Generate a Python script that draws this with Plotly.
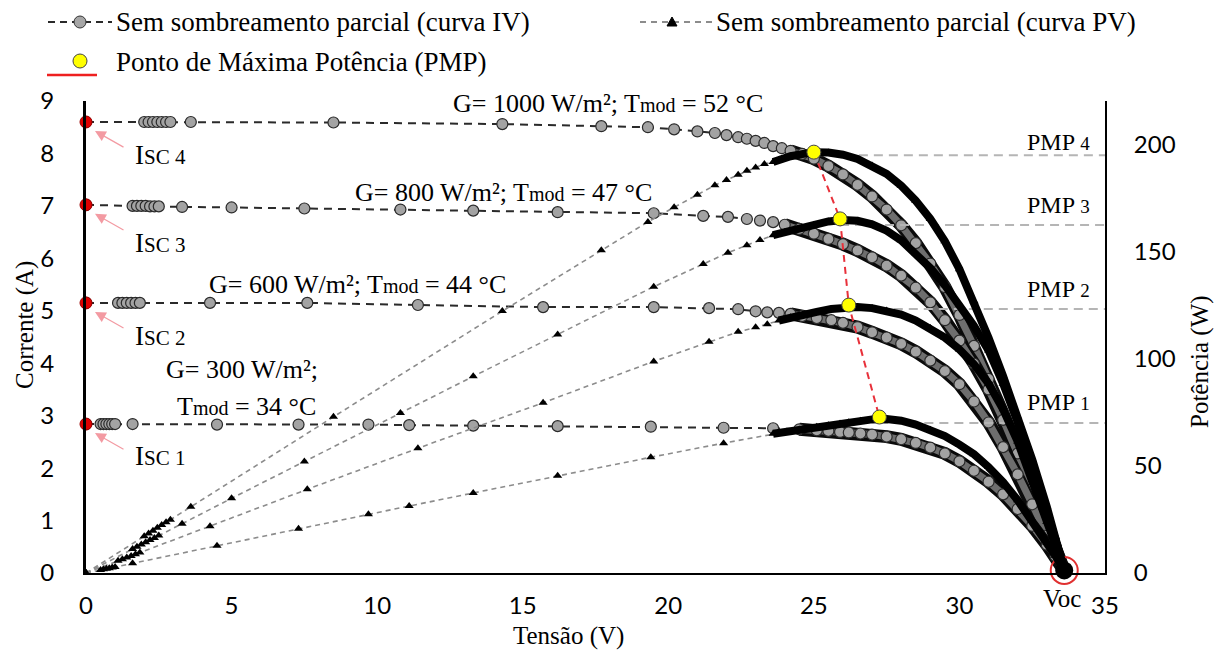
import plotly.graph_objects as go

# ---------------- data ----------------
# Curve 4 : G = 1000 W/m2
iv4_v = [0.0, 2.0, 2.15, 2.3, 2.45, 2.6, 2.75, 2.9, 3.6, 8.5, 14.3, 17.7, 19.3, 20.2, 21.0, 21.6, 22.0, 22.4, 22.7, 23.0,
         23.3, 23.6, 23.9, 24.2, 24.6, 25.0, 25.5, 26.0, 26.5, 27.0, 27.5, 28.0, 28.5, 29.0, 29.5, 30.0, 30.5, 31.0,
         31.5, 32.0, 32.5, 33.0, 33.3, 33.6]
iv4_i = [8.60, 8.60, 8.60, 8.60, 8.60, 8.60, 8.60, 8.60, 8.60, 8.59, 8.56, 8.52, 8.50, 8.46, 8.42, 8.39, 8.35, 8.31, 8.28, 8.24,
         8.20, 8.14, 8.10, 8.05, 7.99, 7.90, 7.76, 7.60, 7.40, 7.18, 6.93, 6.63, 6.29, 5.90, 5.45, 4.92, 4.33, 3.70,
         3.04, 2.36, 1.67, 0.96, 0.52, 0.04]
pv4_p = [0.0, 17.2, 18.5, 19.8, 21.1, 22.4, 23.7, 24.9, 31.0, 73.0, 122.4, 150.8, 164.1, 170.9, 176.8, 181.2, 183.7, 186.1, 188.0, 189.5,
         191.1, 192.1, 193.6, 194.8, 195.8, 196.7, 196.5, 195.5, 193.5, 190.5, 186.5, 181.0, 174.0, 165.5, 155.0, 142.0, 127.0, 110.0,
         92.0, 73.0, 53.0, 31.0, 17.0, 1.3]

# Curve 3 : G = 800 W/m2
iv3_v = [0.0, 1.6, 1.75, 1.9, 2.05, 2.2, 2.35, 2.5, 3.3, 5.0, 7.5, 10.8, 13.3, 16.2, 19.5, 21.2, 22.05, 22.7, 23.15, 23.6,
         24.0, 24.5, 25.0, 25.5, 26.0, 26.5, 27.0, 27.5, 28.0, 28.5, 29.0, 29.5, 30.0, 30.5, 31.0, 31.5, 32.0, 32.5,
         33.0, 33.3, 33.6]
iv3_i = [7.02, 7.00, 7.00, 7.00, 7.00, 6.99, 6.99, 6.99, 6.98, 6.97, 6.95, 6.93, 6.91, 6.88, 6.86, 6.81, 6.79, 6.75, 6.72, 6.69,
         6.64, 6.56, 6.47, 6.37, 6.27, 6.15, 6.02, 5.86, 5.67, 5.44, 5.16, 4.82, 4.43, 3.99, 3.50, 2.92, 2.28, 1.61,
         0.90, 0.48, 0.03]
pv3_p = [0.0, 11.2, 12.25, 13.3, 14.35, 15.4, 16.4, 17.5, 23.0, 34.9, 52.1, 74.8, 91.9, 111.5, 133.8, 144.4, 149.7, 153.2, 155.6, 157.9,
         159.4, 161.0, 162.8, 164.3, 165.0, 164.6, 163.0, 160.0, 155.5, 149.5, 142.5, 134.5, 125.5, 115.5, 104.0, 88.5, 70.5, 50.5,
         28.5, 15.5, 1.0]

# Curve 2 : G = 600 W/m2
iv2_v = [0.0, 1.1, 1.25, 1.4, 1.55, 1.7, 1.85, 4.26, 7.6, 11.4, 15.7, 19.5, 21.4, 22.4, 23.0, 23.4, 23.8, 24.2, 24.6,
         25.1, 25.6, 26.0, 26.5, 27.0, 27.5, 28.0, 28.5, 29.0, 29.5, 30.0, 30.5, 31.0, 31.5, 32.0, 32.5, 33.0, 33.3, 33.6]
iv2_i = [5.15, 5.15, 5.15, 5.15, 5.15, 5.15, 5.15, 5.15, 5.15, 5.11, 5.07, 5.07, 5.05, 5.03, 4.99, 4.97, 4.96, 4.94, 4.90,
         4.86, 4.82, 4.77, 4.69, 4.59, 4.49, 4.37, 4.22, 4.05, 3.85, 3.60, 3.27, 2.87, 2.40, 1.88, 1.31, 0.71, 0.38, 0.03]
pv2_p = [0.0, 5.67, 6.44, 7.21, 7.98, 8.76, 9.53, 21.9, 39.1, 58.3, 79.6, 98.9, 108.1, 112.7, 114.8, 116.3, 118.0, 119.5, 120.5,
         122.0, 123.4, 124.0, 124.3, 123.8, 122.7, 120.8, 118.0, 114.5, 110.0, 104.5, 97.5, 88.5, 76.5, 61.5, 43.5, 24.0, 13.0, 1.0]

# Curve 1 : G = 300 W/m2
iv1_v = [0.0, 0.5, 0.6, 0.7, 0.8, 0.9, 1.0, 1.6, 4.5, 7.3, 9.7, 11.1, 13.3, 16.2, 19.4, 21.9, 23.6, 24.5, 25.1, 25.5,
         25.9, 26.2, 26.6, 27.0, 27.5, 28.0, 28.5, 29.0, 29.5, 30.0, 30.5, 31.0, 31.5, 32.0, 32.5, 33.0, 33.3, 33.6]
iv1_i = [2.84, 2.84, 2.84, 2.84, 2.84, 2.84, 2.84, 2.84, 2.83, 2.83, 2.83, 2.82, 2.81, 2.80, 2.79, 2.77, 2.76, 2.74, 2.72, 2.71,
         2.69, 2.68, 2.66, 2.64, 2.60, 2.55, 2.48, 2.39, 2.28, 2.13, 1.95, 1.74, 1.50, 1.22, 0.90, 0.54, 0.32, 0.04]
pv1_p = [0.0, 1.42, 1.70, 1.99, 2.27, 2.56, 2.84, 4.54, 12.7, 20.7, 27.5, 31.3, 37.4, 45.4, 54.1, 60.7, 65.1, 67.1, 68.3, 69.1,
         69.9, 70.5, 71.2, 71.8, 72.0, 71.2, 69.4, 67.0, 64.0, 60.0, 55.5, 49.5, 42.5, 34.0, 24.5, 14.0, 8.0, 1.2]

isc_i = [8.60, 7.02, 5.15, 2.84]
isc_labels = ["4", "3", "2", "1"]
voc_v = 33.6
pmp_v = [25.0, 25.9, 26.2, 27.25]
pmp_p = [196.7, 165.5, 125.2, 72.9]
pmp_line_p = [195.3, 162.6, 123.4, 70.1]
pmp_labels = ["4", "3", "2", "1"]
irr_labels = ["G= 1000 W/m²; T<span style='font-size:20px'>mod</span> = 52 °C",
              "G= 800 W/m²; T<span style='font-size:20px'>mod</span> = 47 °C",
              "G= 600 W/m²; T<span style='font-size:20px'>mod</span> = 44 °C"]
x_ticks = [0, 5, 10, 15, 20, 25, 30, 35]
y_ticks = [0, 1, 2, 3, 4, 5, 6, 7, 8, 9]
y2_ticks = [0, 50, 100, 150, 200]
X_MAX, Y_MAX, Y2_MAX = 35, 9, 220.6

# ---------------- layout helpers (pixel geometry) ----------------
L, R, T, B = 86, 1105, 101, 573
def X(px): return (px - L) / (R - L) * X_MAX
def Y(py): return (B - py) / (B - T) * Y_MAX
def XP(px): return (px - L) / (R - L)
def YP(py): return (B - py) / (B - T)

SERIF = "Liberation Serif"
SANS = "Lato"

fig = go.Figure()

curves = [(iv4_v, iv4_i, pv4_p), (iv3_v, iv3_i, pv3_p), (iv2_v, iv2_i, pv2_p), (iv1_v, iv1_i, pv1_p)]

# IV curves (left axis)
for v, i, p in curves:
    bv = [a for a in v if a >= 24.0]
    bi = [b for a, b in zip(v, i) if a >= 24.0]
    fig.add_trace(go.Scatter(x=v, y=i, mode="lines", line=dict(color="#2a2a2a", width=2, dash="8px,6px"),
                             hoverinfo="skip"))
    fig.add_trace(go.Scatter(x=bv, y=bi, mode="lines", line=dict(color="#0a0a0a", width=13), hoverinfo="skip"))
    fig.add_trace(go.Scatter(x=bv, y=bi, mode="lines", line=dict(color="#6e6e6e", width=7), hoverinfo="skip"))
    fig.add_trace(go.Scatter(x=v, y=i, mode="markers",
                             marker=dict(symbol="circle", size=11, color="#a3a3a3", line=dict(color="#2a2a2a", width=1.2)),
                             hoverinfo="skip"))

# Isc markers
fig.add_trace(go.Scatter(x=[0] * len(isc_i), y=isc_i, mode="markers", cliponaxis=False,
                         marker=dict(size=12, color="#e00000", line=dict(color="#900", width=1)), hoverinfo="skip"))
# Voc marker
fig.add_trace(go.Scatter(x=[voc_v], y=[0.05], mode="markers", marker=dict(size=18, color="black"), hoverinfo="skip",
                         cliponaxis=False))
fig.add_trace(go.Scatter(x=[voc_v], y=[0.05], mode="markers",
                         marker=dict(size=27, color="rgba(0,0,0,0)", line=dict(color="#e03030", width=2)),
                         hoverinfo="skip", cliponaxis=False))

# PMP horizontal reference lines (right axis)
for k in range(4):
    fig.add_trace(go.Scatter(x=[pmp_v[k], X_MAX], y=[pmp_line_p[k], pmp_line_p[k]], yaxis="y2", mode="lines",
                             line=dict(color="#b5b5b5", width=2, dash="9px,6px"), hoverinfo="skip"))

# PV curves (right axis)
for v, i, p in curves:
    bv = [a for a in v if a >= 23.5]
    bp = [b for a, b in zip(v, p) if a >= 23.5]
    fig.add_trace(go.Scatter(x=v, y=p, yaxis="y2", mode="lines",
                             line=dict(color="#8c8c8c", width=1.6, dash="5px,4px"), hoverinfo="skip"))
    fig.add_trace(go.Scatter(x=bv, y=bp, yaxis="y2", mode="lines", line=dict(color="black", width=8),
                             hoverinfo="skip"))
    fig.add_trace(go.Scatter(x=v, y=p, yaxis="y2", mode="markers",
                             marker=dict(symbol="triangle-up", size=8, color="black"), hoverinfo="skip"))

# PMP connection and points
fig.add_trace(go.Scatter(x=pmp_v, y=pmp_p, yaxis="y2", mode="lines",
                         line=dict(color="#e8303a", width=2, dash="7px,5px"), hoverinfo="skip"))
fig.add_trace(go.Scatter(x=pmp_v, y=pmp_p, yaxis="y2", mode="markers",
                         marker=dict(size=14, color="#ffff00", line=dict(color="#444", width=1)), hoverinfo="skip"))

ann = []
fnt = dict(family=SERIF, size=26, color="black")


def pa(px, py, text, font, xanchor="center", angle=0):
    return dict(x=XP(px), y=YP(py), xref="paper", yref="paper", xanchor=xanchor, yanchor="middle",
                showarrow=False, text=text, font=font, textangle=angle)


# irradiance labels
ann.append(pa(608, 103, irr_labels[0], fnt))
ann.append(pa(503, 192, irr_labels[1], fnt))
ann.append(pa(357, 284, irr_labels[2], fnt))
ann.append(pa(242, 370, "G= 300 W/m²;", fnt))
ann.append(pa(246, 406, "T<span style='font-size:20px'>mod</span> = 34 °C", fnt))

# PMP labels
pmp_lab_y = [142, 205, 289, 402]
for k in range(4):
    ann.append(pa(1092, pmp_lab_y[k], "PMP <span style='font-size:19px'>" + pmp_labels[k] + "</span>",
                  dict(family=SERIF, size=24, color="black"), xanchor="right"))
# Isc labels and arrows
isc_lab_y = [155, 243, 336, 456]
for k in range(4):
    ann.append(pa(133, isc_lab_y[k], "I<span style='font-size:21px'>SC " + isc_labels[k] + "</span>",
                  dict(family=SERIF, size=27, color="black"), xanchor="left"))
    py = B - isc_i[k] / Y_MAX * (B - T)
    ann.append(dict(x=X(95), y=Y(py + 9), xref="x", yref="y", ax=30, ay=17, showarrow=True, text="",
                    arrowhead=2, arrowsize=1.8, arrowwidth=1.2, arrowcolor="#f39aa2"))
# Voc label
ann.append(pa(1062, 598, "Voc", dict(family=SERIF, size=25, color="black")))
# axis titles
tfont = dict(family=SERIF, size=25, color="black")
ann.append(pa(25, 325, "Corrente (A)", tfont, angle=-90))
ann.append(pa(1200, 362, "Potência (W)", tfont, angle=-90))
ann.append(pa(568, 636, "Tensão (V)", tfont))
# legend texts
leg_font = dict(family=SERIF, size=27, color="black")
ann.append(pa(114, 22, "Sem sombreamento parcial (curva IV)", leg_font, xanchor="left"))
ann.append(pa(714, 22, "Sem sombreamento parcial (curva PV)", leg_font, xanchor="left"))
ann.append(pa(114, 62, "Ponto de Máxima Potência (PMP)", leg_font, xanchor="left"))

shapes = [
    dict(type="line", xref="paper", yref="paper", x0=XP(48), x1=XP(112), y0=YP(22), y1=YP(22),
         line=dict(color="#2a2a2a", width=2, dash="7px,5px")),
    dict(type="circle", xref="paper", yref="paper", xsizemode="pixel", ysizemode="pixel",
         xanchor=XP(80), yanchor=YP(22), x0=-6, x1=6, y0=-6, y1=6,
         fillcolor="#a6a6a6", line=dict(color="#333", width=1)),
    dict(type="line", xref="paper", yref="paper", x0=XP(640), x1=XP(712), y0=YP(22), y1=YP(22),
         line=dict(color="#8c8c8c", width=2, dash="6px,5px")),
    dict(type="path", xref="paper", yref="paper", xsizemode="pixel", ysizemode="pixel",
         xanchor=XP(672), yanchor=YP(22), path="M -5,-4 L 5,-4 L 0,5 Z",
         fillcolor="black", line=dict(color="black", width=1)),
    dict(type="line", xref="paper", yref="paper", x0=XP(47), x1=XP(97), y0=YP(75), y1=YP(75),
         line=dict(color="#ee2020", width=2.5)),
    dict(type="circle", xref="paper", yref="paper", xsizemode="pixel", ysizemode="pixel",
         xanchor=XP(80), yanchor=YP(61), x0=-7, x1=7, y0=-7, y1=7,
         fillcolor="#ffff00", line=dict(color="#444", width=1)),
]

fig.update_layout(
    width=1222, height=650, showlegend=False,
    margin=dict(l=L, r=1222 - R, t=T, b=650 - B, pad=0),
    plot_bgcolor="white", paper_bgcolor="white",
    xaxis=dict(range=[0, X_MAX], tickvals=x_ticks, showgrid=False, zeroline=False, showline=True,
               linecolor="black", linewidth=2, ticks="outside", ticklen=10, tickcolor="rgba(0,0,0,0)",
               tickfont=dict(family=SANS, size=24, color="black"), fixedrange=True),
    yaxis=dict(range=[0, Y_MAX], tickvals=y_ticks, showgrid=False, zeroline=False, showline=True,
               linecolor="black", linewidth=3, ticks="outside", ticklen=24, tickcolor="rgba(0,0,0,0)",
               tickfont=dict(family=SANS, size=24, color="black"), fixedrange=True),
    yaxis2=dict(range=[0, Y2_MAX], tickvals=y2_ticks, overlaying="y", side="right", showgrid=False,
                zeroline=False, showline=True, linecolor="black", linewidth=2, ticks="outside", ticklen=22,
                tickcolor="rgba(0,0,0,0)", tickfont=dict(family=SANS, size=24, color="black"), fixedrange=True),
    annotations=ann,
    shapes=shapes,
)

fig.write_html("out.html")
